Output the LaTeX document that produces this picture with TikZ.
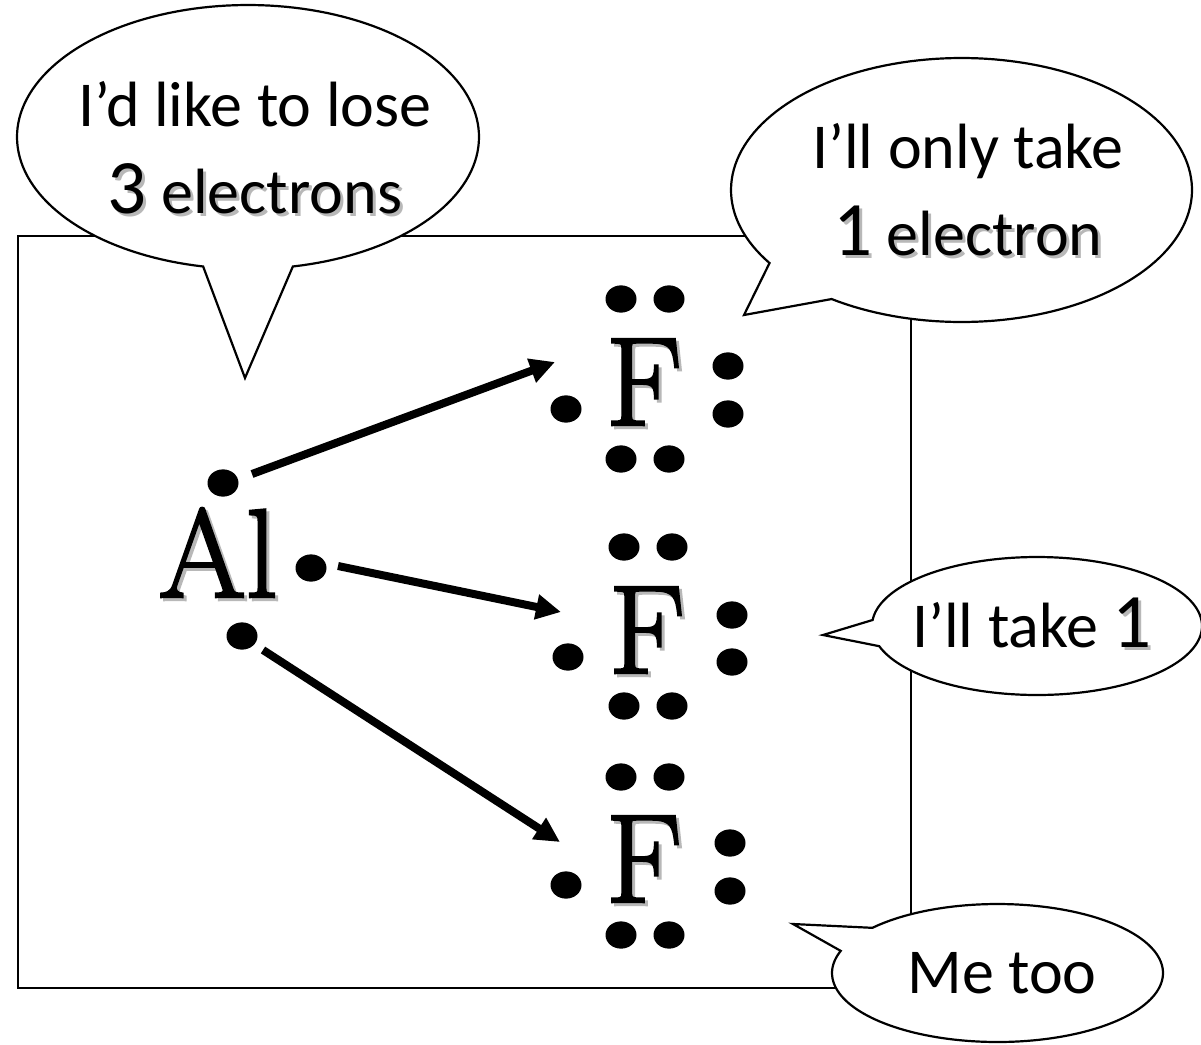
\documentclass[tikz,border=0pt]{standalone}
\usepackage{fontspec}
\setmainfont{Carlito}
\newfontfamily\atomfont[FakeBold=2]{Latin Modern Roman}
\usetikzlibrary{arrows.meta}
\newcommand{\shtext}[1]{\leavevmode\rlap{\raisebox{-3pt}{\kern3pt\color{black!28}#1}}#1}
\newcommand{\bigdigit}[1]{{\fontsize{77}{88}\selectfont #1}}
\tikzset{
  x=1pt,y=-1pt,
  edge/.style={draw=black,line width=2.2pt,line join=miter},
  bubble/.style={edge,fill=white},
  dot/.style={circle,fill=black,draw=none,minimum width=31pt,inner sep=0pt,yscale=0.88},
  say/.style={inner sep=0pt,align=center,font=\fontsize{64}{87}\selectfont},
  atom/.style={inner sep=0pt,anchor=base,font=\atomfont\fontsize{126}{126}\selectfont},
  react/.style={line width=8pt,-{Triangle[length=25pt,width=24pt]}}
}
\begin{document}
\begin{tikzpicture}
\useasboundingbox (0,0) rectangle (1201,1044);
\fill[white] (0,0) rectangle (1201,1044);
\draw[edge] (18,236) rectangle (911,988);

% speech bubbles
\draw[bubble] plot[domain=101.2:438.8,samples=160] ({248+231*cos(\x)},{137+132*sin(\x)}) -- (245,378) -- cycle;
\draw[bubble] plot[domain=146.4:484.3,samples=160] ({961.5+230.5*cos(\x)},{190+132*sin(\x)}) -- (744,315) -- cycle;
\draw[bubble] plot[domain=185:523,samples=160] ({1037+165*cos(\x)},{626+69*sin(\x)}) -- (823,635) -- cycle;
\draw[bubble] plot[domain=220.9:558.7,samples=160] ({997.5+165.5*cos(\x)},{973+69*sin(\x)}) -- (793,924) -- cycle;

\node[say] (t1) at (255,149) {I’d like to lose\\\shtext{\bigdigit{3} electrons}};
\node[say] (t2) at (968,191) {I’ll only take\\\shtext{\bigdigit{1} electron}};
\node[say] (t3) at (1032,624) {I’ll take \shtext{\bigdigit{1}}};
\node[say] (t4) at (1002,973) {Me too};

% atoms
\node[atom] (al) at (218,597) {\shtext{Al}};
\node[atom] (f1) at (644,425) {\shtext{F}};
\node[atom] (f2) at (647,673) {\shtext{F}};
\node[atom] (f3) at (644,902) {\shtext{F}};

% electrons
\foreach \n/\px/\py in {a/223/483,b/311/568,c/242/636,
  d1/621/299,d2/669/299,d3/728/366,d4/728/414,d5/566/409,d6/621/459,d7/669/459,
  e1/624/547,e2/672/547,e3/732/615,e4/732/662,e5/568/657,e6/624/706,e7/672/706,
  g1/621/777,g2/669/777,g3/730/843,g4/730/891,g5/566/885,g6/621/935,g7/669/935}
  \node[dot] (\n) at (\px,\py) {};

% electron transfers
\coordinate (s1) at (252,474); \coordinate (h1) at (555,362);
\coordinate (s2) at (338,566); \coordinate (h2) at (561,612);
\coordinate (s3) at (263,650); \coordinate (h3) at (560,842);
\draw[react] (s1) -- (h1);
\draw[react] (s2) -- (h2);
\draw[react] (s3) -- (h3);
\end{tikzpicture}
\end{document}
